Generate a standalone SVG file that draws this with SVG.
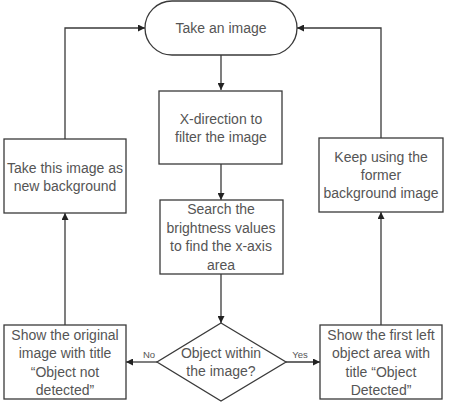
<svg xmlns="http://www.w3.org/2000/svg" width="449" height="404" viewBox="0 0 449 404">
<style>
.n{fill:#fff;stroke:#3a3a3a;stroke-width:1.3}
.t{font-family:"Liberation Sans",Arial,sans-serif;font-size:14px;fill:#555;text-anchor:middle}
.s{font-family:"Liberation Sans",Arial,sans-serif;font-size:9.5px;fill:#555;text-anchor:middle}
.c{fill:none;stroke:#3a3a3a;stroke-width:1.3}
</style>
<defs>
<marker id="a" viewBox="0 0 10 10" refX="10" refY="5" markerWidth="7" markerHeight="7" markerUnits="userSpaceOnUse" orient="auto">
<path d="M0,0 L10,5 L0,10 z" fill="#222"/>
</marker>
</defs>
<rect width="449" height="404" fill="#fff"/>
<g id="connectors">
<path class="c" d="M221,55 V90" marker-end="url(#a)"/>
<path class="c" d="M221,164 V200" marker-end="url(#a)"/>
<path class="c" d="M221,274 V323" marker-end="url(#a)"/>
<path class="c" d="M157,362 H126" marker-end="url(#a)"/>
<path class="c" d="M286,362 H320" marker-end="url(#a)"/>
<path class="c" d="M65,325 V213" marker-end="url(#a)"/>
<path class="c" d="M65,139 V28 H145" marker-end="url(#a)"/>
<path class="c" d="M381,325 V212" marker-end="url(#a)"/>
<path class="c" d="M381,138 V28 H297" marker-end="url(#a)"/>
<text class="s" x="149" y="358">No</text>
<text class="s" x="300" y="358">Yes</text>
</g>
<g id="start">
<rect class="n" x="145" y="1" width="152" height="54" rx="27" ry="27"/>
<text class="t" x="221" y="33">Take an image</text>
</g>
<g id="filter">
<rect class="n" x="159" y="91" width="123" height="73"/>
<text class="t" x="221" y="124">X-direction to</text>
<text class="t" x="221" y="142">filter the image</text>
</g>
<g id="search">
<rect class="n" x="160" y="200" width="123" height="74"/>
<text class="t" x="221" y="214">Search the</text>
<text class="t" x="221" y="233">brightness values</text>
<text class="t" x="221" y="251">to find the x-axis</text>
<text class="t" x="221" y="270">area</text>
</g>
<g id="decision">
<polygon class="n" points="221,323 286,362 221,401 157,362"/>
<text class="t" x="221" y="358">Object within</text>
<text class="t" x="221" y="376">the image?</text>
</g>
<g id="notdetected">
<rect class="n" x="4" y="325" width="122" height="74"/>
<text class="t" x="65" y="340">Show the original</text>
<text class="t" x="65" y="358">image with title</text>
<text class="t" x="65" y="377">“Object not</text>
<text class="t" x="65" y="395">detected”</text>
</g>
<g id="detected">
<rect class="n" x="320" y="325" width="122" height="74"/>
<text class="t" x="381" y="340">Show the first left</text>
<text class="t" x="381" y="358">object area with</text>
<text class="t" x="381" y="377">title “Object</text>
<text class="t" x="381" y="395">Detected”</text>
</g>
<g id="newbg">
<rect class="n" x="4" y="139" width="122" height="74"/>
<text class="t" x="65" y="173">Take this image as</text>
<text class="t" x="65" y="191">new background</text>
</g>
<g id="keepbg">
<rect class="n" x="319" y="138" width="124" height="74"/>
<text class="t" x="381" y="162">Keep using the</text>
<text class="t" x="381" y="180">former</text>
<text class="t" x="381" y="198">background image</text>
</g>
</svg>
